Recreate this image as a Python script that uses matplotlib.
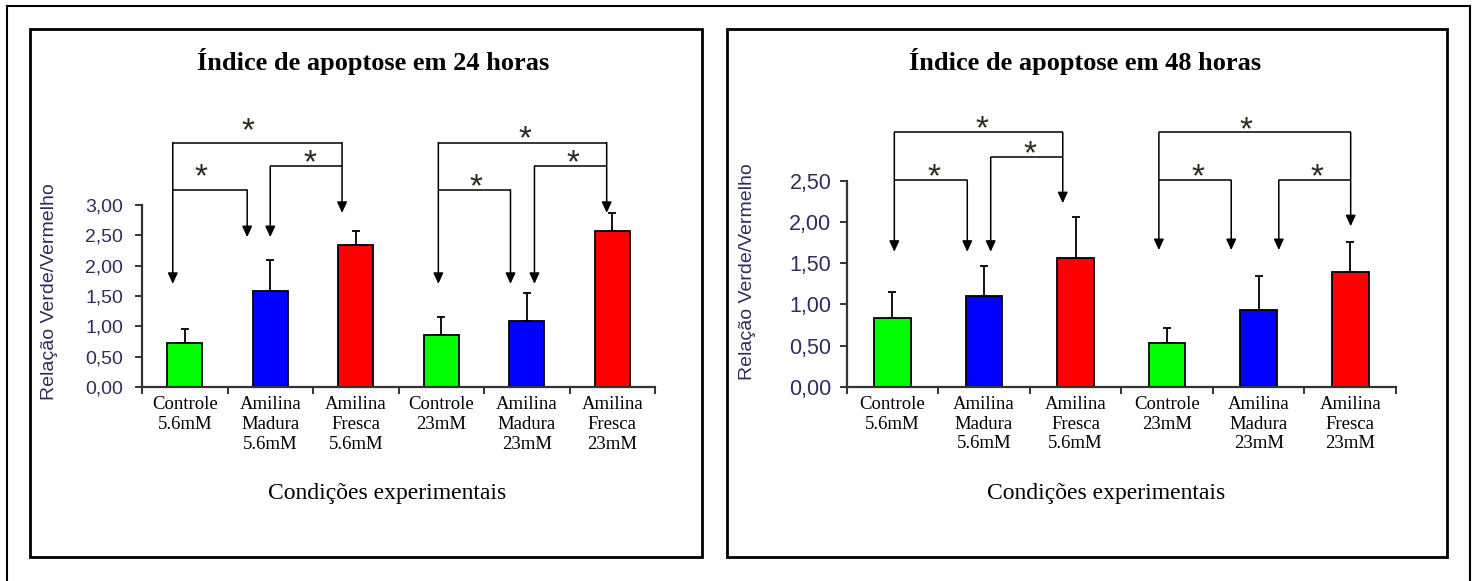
"""Apoptosis index (green/red ratio) at 24 h and 48 h, two framed panels."""

import matplotlib
matplotlib.use("Agg")
import matplotlib.pyplot as plt
from matplotlib.lines import Line2D
from matplotlib.patches import Rectangle
from matplotlib.ticker import FixedLocator, FuncFormatter


# ---------------------------------------------------------------------- #
# Data
# ---------------------------------------------------------------------- #
CATEGORIES = [
    "Controle\n5.6mM", "Amilina\nMadura\n5.6mM", "Amilina\nFresca\n5.6mM",
    "Controle\n23mM", "Amilina\nMadura\n23mM", "Amilina\nFresca\n23mM",
]
MEAN_24H = [0.72, 1.58, 2.34, 0.86, 1.09, 2.57]
SD_24H = [0.23, 0.52, 0.23, 0.29, 0.46, 0.29]
MEAN_48H = [0.83, 1.10, 1.56, 0.535, 0.93, 1.39]
SD_48H = [0.32, 0.37, 0.50, 0.175, 0.42, 0.37]
BAR_COLORS = ["#00ff00", "#0000ff", "#ff0000"] * 2

TITLE_24H = "Índice de apoptose em 24 horas"
TITLE_48H = "Índice de apoptose em 48 horas"
XLABEL = "Condições experimentais"
YLABEL = "Relação Verde/Vermelho"

# Significance brackets: (x_left, x_right, y_line, tip_left, tip_right,
# star_x, star_gap_px). A tip of None means that end has no own arrow.
BRACKETS_24H = [
    (-0.14, 1.84, 4.03, 1.70, 2.87, 0.74, 17),
    (-0.14, 0.73, 3.25, None, 2.47, 0.19, 18),
    (1.00, 1.84, 3.64, 2.47, None, 1.46, 8),
    (2.966, 4.935, 4.03, 1.70, 2.87, 3.98, 9),
    (2.966, 3.81, 3.25, None, 1.70, 3.41, 8),
    (4.09, 4.935, 3.64, 1.70, None, 4.54, 8),
]
BRACKETS_48H = [
    (0.02, 1.86, 3.09, 1.64, 2.23, 0.975, 9),
    (0.02, 0.817, 2.51, None, 1.64, 0.454, 8),
    (1.073, 1.86, 2.79, 1.64, None, 1.50, 8),
    (2.91, 5.005, 3.09, 1.66, 1.95, 3.86, 8),
    (2.91, 3.70, 2.51, None, 1.66, 3.34, 8),
    (4.22, 5.005, 2.51, 1.66, None, 4.64, 8),
]

W, H = 1475, 581
SERIF = ["Liberation Serif", "DejaVu Serif"]
SANS = ["Liberation Sans", "DejaVu Sans"]
TICK_COLOR = "#2e2e5c"
AXIS_COLOR = "#333333"
STAR_COLOR = "#2f2a1e"
STAR_SIZE = 24


def fx(x):
    return x / W


def fy(y):
    return 1 - y / H


def _frame(fig, x0, y0, x1, y1, lw=2.0):
    fig.add_artist(Rectangle((fx(x0), fy(y1)), fx(x1) - fx(x0), fy(y0) - fy(y1),
                             transform=fig.transFigure, fill=False,
                             edgecolor="black", linewidth=lw))


def _brackets(ax, brackets):
    arrow = dict(arrowstyle="-|>,head_length=0.65,head_width=0.3",
                 color="black", lw=1.1, shrinkA=0, shrinkB=0)
    for x0, x1, y, tip0, tip1, sx, gap in brackets:
        ax.plot([x0, x1], [y, y], color="black", lw=1.1, clip_on=False,
                solid_capstyle="butt")
        for x, tip in ((x0, tip0), (x1, tip1)):
            if tip is not None:
                ax.annotate("", xy=(x, tip), xytext=(x, y),
                            arrowprops=arrow, annotation_clip=False)
        # asterisk glyph centre sits roughly 0.43 em above its baseline here
        off = gap * 0.72 - 0.43 * STAR_SIZE
        ax.annotate("*", xy=(sx, y), xytext=(0, off), textcoords="offset points",
                    ha="center", va="baseline", fontsize=STAR_SIZE,
                    family=SANS, color=STAR_COLOR, annotation_clip=False)


def _panel(fig, box, means, sds, ymax, width, tick_size, ypad, brackets):
    left, right, bottom, top = box
    ax = fig.add_axes([fx(left), fy(bottom), fx(right) - fx(left),
                       fy(top) - fy(bottom)])
    x = range(len(means))
    ax.bar(x, means, width=width, color=BAR_COLORS, edgecolor="black",
           linewidth=1.3, zorder=2)
    ax.errorbar(x, means, yerr=[[0] * len(sds), sds], fmt="none",
                ecolor="black", elinewidth=1.3, capsize=3, capthick=1.3,
                zorder=1)

    ax.set_xlim(-0.5, len(means) - 0.5)
    ax.set_ylim(0, ymax)
    for side in ("top", "right"):
        ax.spines[side].set_visible(False)
    for side in ("left", "bottom"):
        ax.spines[side].set_color(AXIS_COLOR)
        ax.spines[side].set_linewidth(1.6)

    ax.set_yticks([i * 0.5 for i in range(int(ymax / 0.5) + 1)])
    ax.yaxis.set_major_formatter(FuncFormatter(
        lambda v, _: f"{v:.2f}".replace(".", ",")))
    ax.tick_params(axis="y", length=5, width=1.4, color=AXIS_COLOR,
                   pad=ypad, labelsize=tick_size, labelcolor=TICK_COLOR)
    for lab in ax.get_yticklabels():
        lab.set_family(SANS)

    ax.xaxis.set_major_locator(FixedLocator([i - 0.5 for i in range(len(means) + 1)]))
    ax.xaxis.set_major_formatter(FuncFormatter(lambda v, _: ""))
    ax.xaxis.set_minor_locator(FixedLocator(list(x)))
    ax.set_xticklabels(CATEGORIES, minor=True, family=SERIF, fontsize=13.5,
                       linespacing=1.22)
    ax.tick_params(axis="x", which="major", length=5, width=1.4,
                   color=AXIS_COLOR)
    ax.tick_params(axis="x", which="minor", length=0, pad=6.5)

    _brackets(ax, brackets)
    return ax


fig = plt.figure(figsize=(W / 100, H / 100), dpi=100)

# outer page frame (bottom edge lies outside the picture)
for xs, ys in (([7, 7], [H, 6]), ([7, 1470], [6, 6]), ([1470, 1470], [6, H])):
    fig.add_artist(Line2D([fx(v) for v in xs], [fy(v) for v in ys],
                          transform=fig.transFigure, color="black", lw=1.5))

_frame(fig, 30, 29, 702, 557)
_frame(fig, 727, 29, 1447, 557)

_panel(fig, (142, 655, 387, 205), MEAN_24H, SD_24H, 3.0, 0.41, 14, 8.5,
       BRACKETS_24H)
_panel(fig, (846.7, 1396, 386.7, 181), MEAN_48H, SD_48H, 2.5, 0.40, 15.5, 6,
       BRACKETS_48H)

fig.text(fx(373), fy(70), TITLE_24H, ha="center", va="baseline",
         family=SERIF, fontsize=19, fontweight="bold")
fig.text(fx(1085), fy(70), TITLE_48H, ha="center", va="baseline",
         family=SERIF, fontsize=19, fontweight="bold")

fig.text(fx(387), fy(499), XLABEL, ha="center", va="baseline",
         family=SERIF, fontsize=17)
fig.text(fx(1106), fy(499), XLABEL, ha="center", va="baseline",
         family=SERIF, fontsize=17)

fig.text(fx(50), fy(292), YLABEL, rotation=90, ha="center", va="center",
         family=SANS, fontsize=14, color=TICK_COLOR)
fig.text(fx(747), fy(272), YLABEL, rotation=90, ha="center", va="center",
         family=SANS, fontsize=14, color=TICK_COLOR)

fig.savefig("out.png", dpi=100, facecolor="white")
